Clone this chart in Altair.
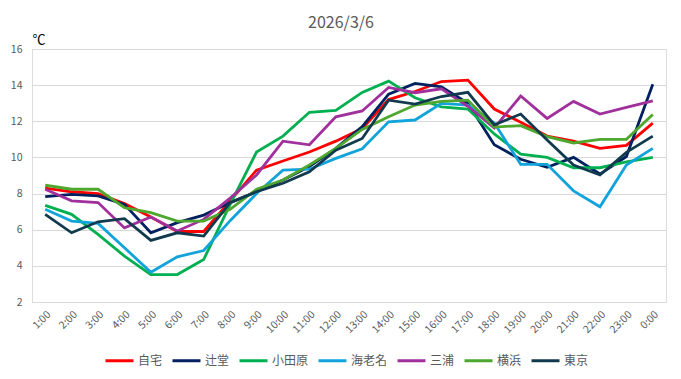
import altair as alt
import pandas as pd

hours = ["1:00", "2:00", "3:00", "4:00", "5:00", "6:00", "7:00", "8:00", "9:00", "10:00",
         "11:00", "12:00", "13:00", "14:00", "15:00", "16:00", "17:00", "18:00", "19:00",
         "20:00", "21:00", "22:00", "23:00", "0:00"]

jitaku = [8.3, 8.1, 8.0, 7.45, 6.7, 5.9, 5.9, 7.6, 9.3, 9.8, 10.3, 10.9, 11.6, 13.2, 13.65, 14.2,
          14.28, 12.68, 11.95, 11.18, 10.9, 10.5, 10.67, 11.9]
tsujido = [7.83, 7.95, 7.87, 7.4, 5.83, 6.39, 6.81, 7.5, 8.1, 8.75, 9.5, 10.5, 11.7, 13.5, 14.1,
           13.9, 13.0, 10.7, 9.9, 9.45, 10.0, 9.08, 10.05, 14.05]
odawara = [7.35, 6.85, 5.74, 4.54, 3.52, 3.52, 4.35, 7.4, 10.3, 11.18, 12.5, 12.6, 13.6, 14.22,
           13.3, 12.8, 12.68, 11.3, 10.18, 10.0, 9.43, 9.43, 9.75, 10.0]
ebina = [7.13, 6.48, 6.35, 5.0, 3.65, 4.5, 4.85, 6.5, 8.0, 9.3, 9.35, 9.95, 10.48, 11.97, 12.07,
         12.99, 12.9, 11.9, 9.62, 9.62, 8.15, 7.27, 9.58, 10.5]
miura = [8.24, 7.6, 7.5, 6.1, 6.7, 5.93, 6.57, 7.75, 9.03, 10.9, 10.7, 12.25, 12.57, 13.87, 13.58,
         13.8, 12.83, 11.63, 13.4, 12.16, 13.1, 12.4, 12.77, 13.13]
yokohama = [8.46, 8.24, 8.24, 7.22, 6.94, 6.48, 6.48, 7.13, 8.24, 8.75, 9.58, 10.5, 11.55, 12.25,
            12.9, 13.1, 13.17, 11.68, 11.76, 11.15, 10.8, 11.0, 11.0, 12.38]
tokyo = [6.85, 5.83, 6.44, 6.61, 5.41, 5.83, 5.65, 7.5, 8.1, 8.57, 9.2, 10.4, 11.05, 13.17, 12.95,
         13.37, 13.6, 11.8, 12.4, 10.96, 9.58, 9.03, 10.28, 11.18]

series_names = ["自宅", "辻堂", "小田原", "海老名", "三浦", "横浜", "東京"]
series_values = [jitaku, tsujido, odawara, ebina, miura, yokohama, tokyo]
series_colors = ["#FF0000", "#002060", "#00B050", "#12A3DB", "#A0309C", "#4EA72E", "#123A4E"]

rows = []
for si, (name, vals) in enumerate(zip(series_names, series_values)):
    for h, v in zip(hours, vals):
        rows.append({"地点": name, "時刻": h, "気温": v, "order": si})
df = pd.DataFrame(rows)

FONT = "Noto Sans CJK JP"

chart = alt.Chart(df).mark_line(strokeWidth=2.8, strokeJoin="miter", clip=False).encode(
    x=alt.X("時刻:O", sort=hours,
            scale=alt.Scale(type="point", padding=0.5),
            axis=alt.Axis(title=None, labelAngle=-45, labelPadding=7, ticks=False,
                          domain=False, grid=False, labelFontSize=10.5,
                          labelColor="#595959", labelFont=FONT)),
    y=alt.Y("気温:Q", scale=alt.Scale(domain=[2, 16], nice=False, zero=False),
            axis=alt.Axis(title="℃", titleAngle=0, titleAlign="left", titleBaseline="alphabetic",
                          titleX=0, titleY=-6, titleFont=FONT, titleFontSize=13,
                          titleFontWeight="normal", titleColor="#000000",
                          values=[2, 4, 6, 8, 10, 12, 14, 16], ticks=False, domain=False,
                          tickSize=0, labelPadding=10, labelFontSize=10.5,
                          labelColor="#595959", labelFont=FONT,
                          gridColor="#D9D9D9", gridWidth=1)),
    color=alt.Color("地点:N",
                    scale=alt.Scale(domain=series_names, range=series_colors),
                    legend=alt.Legend(title=None, orient="none", direction="horizontal",
                                      legendX=72, legendY=296, columns=7,
                                      symbolType="stroke", symbolSize=784,
                                      symbolStrokeWidth=3, columnPadding=3,
                                      labelOffset=3, labelFont=FONT, labelFontSize=12,
                                      labelColor="#595959", padding=0)),
    order=alt.Order("order:Q"),
).properties(
    width=634,
    height=253,
    title=alt.TitleParams("2026/3/6", font=FONT, fontSize=16, fontWeight="normal",
                          color="#595959", anchor="middle", dx=-8, offset=2),
    autosize=alt.AutoSizeParams(type="none"),
    padding={"left": 24, "top": 41, "right": 7, "bottom": 69},
).configure_view(stroke=None).configure(background="white")

chart.save("out.html", embed_options={"renderer": "svg", "actions": False})
